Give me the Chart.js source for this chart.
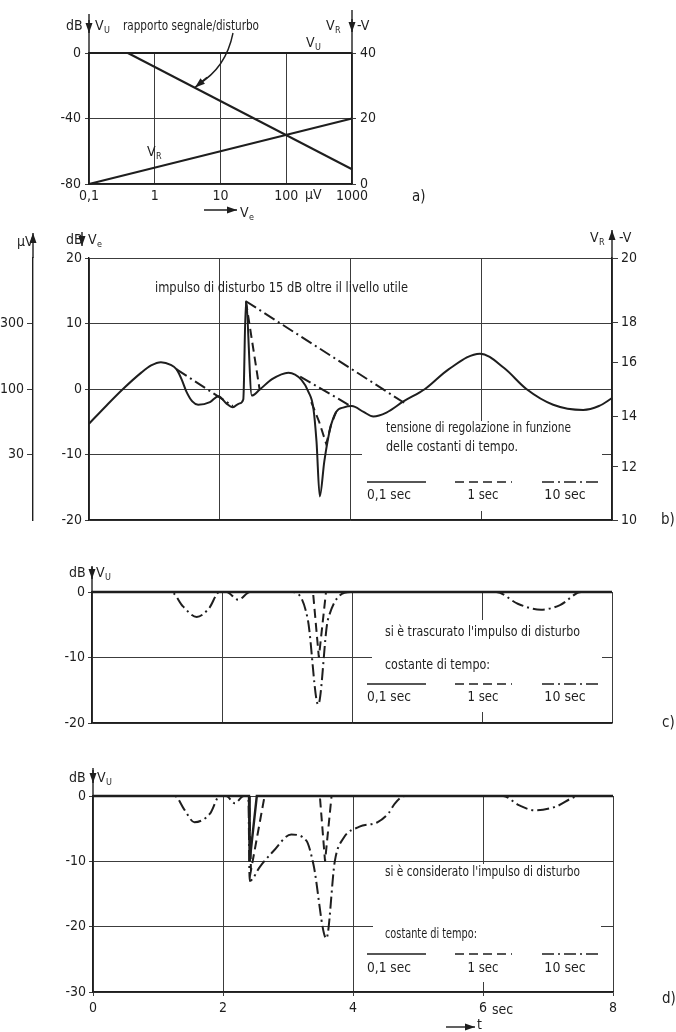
<!DOCTYPE html>
<html lang="it">
<head>
<meta charset="utf-8">
<title>Regolazione automatica del livello</title>
<script src="https://cdn.jsdelivr.net/npm/chart.js@4.4.1/dist/chart.umd.min.js"></script>
<style>
  body { margin: 0; background: #fff; }
  #hoja { position: relative; width: 676px; height: 1032px; overflow: hidden; background: #fff; }
  #hoja canvas { position: absolute; left: 0; }
</style>
</head>
<body>
<div id="hoja">
  <canvas id="graficoA" width="430" height="225" style="top:0"></canvas>
  <canvas id="graficoB" width="676" height="310" style="top:225px"></canvas>
  <canvas id="graficoC" width="676" height="200" style="top:540px"></canvas>
  <canvas id="graficoD" width="676" height="272" style="top:760px"></canvas>
</div>
<script>
const TINTA = '#1e1e1e';
const REJILLA = '#3c3c3c';
const FUENTE = "'DejaVu Sans Condensed', 'Liberation Sans Narrow', 'DejaVu Sans', sans-serif";
const TRAZOS = { solida: [], rayas: [9, 5], puntoRaya: [12, 4, 2, 4] };

// a) rapporto segnale/disturbo (asse x logaritmico in µV)
const aTicksX = [0.1, 1, 10, 100, 1000];
const aEtiquetasX = ['0,1', '1', '10', '100', '1000'];
const aVuX = [0.1, 1000];
const aVuY = [0, 0];
const aSnrX = [0.39, 1000];
const aSnrY = [0, -71];
const aVrX = [0.1, 1000];
const aVrY = [0, 20];

// b) segnale d'ingresso e tensione di regolazione
const bBaseT = [0, 0.25, 0.52, 0.8, 0.95, 1.1, 1.25, 1.34, 1.42, 1.49, 1.58, 1.67, 1.85, 1.98, 2.1, 2.2, 2.3, 2.36, 2.40, 2.49, 2.61, 2.8, 3.05, 3.25, 3.36, 3.43, 3.48, 3.53, 3.6, 3.69, 3.78, 3.9, 4.02, 4.2, 4.35, 4.55, 4.81, 5.14, 5.5, 5.98, 6.35, 6.69, 7.1, 7.56, 7.8, 8.0];
const bBaseV = [-5.3, -2.7, 0, 2.5, 3.6, 4.1, 3.7, 3.0, 1.4, -0.4, -1.9, -2.4, -2.0, -1.1, -2.2, -2.8, -2.2, -1.6, 13.4, -1.0, -0.1, 1.5, 2.5, 1.4, -0.5, -2.8, -8.0, -16.4, -11.0, -6.0, -3.5, -2.8, -2.6, -3.5, -4.2, -3.6, -1.9, 0, 3.0, 5.4, 3.2, 0, -2.4, -3.2, -2.6, -1.4];
const bRayasT = [2.40, 2.61, 3.0, 3.40, 3.52, 3.63, 3.70, 3.78];
const bRayasV = [13.4, -0.1, null, -2.0, -5.0, -8.4, -5.5, -3.5];
const bPuntoRayaT = [1.34, 2.2, 2.8, 3.23, 4.02];
const bPuntoRayaV = [3.0, -2.6, null, 1.9, -2.7];
const bImpulsoT = [2.40, 4.82];
const bImpulsoV = [13.4, -2.1];
const bTicksUvPos = [10, 0, -10];
const bTicksUv = ['300', '100', '30'];
const bTicksDerPos = [20, 10.2, 4, -4.2, -11.9, -20];
const bTicksDer = ['20', '18', '16', '14', '12', '10'];

// c) uscita, impulso di disturbo trascurato
const cSolidaT = [0, 8];
const cSolidaV = [0, 0];
const cRayasT = [0, 3.40, 3.49, 3.60, 8];
const cRayasV = [0, 0, -10, 0, 0];
const cPuntoRayaT = [0, 1.22, 1.40, 1.61, 1.80, 1.96, 2.07, 2.25, 2.43, 3.09, 3.32, 3.48, 3.63, 3.99, 6.22, 6.55, 6.91, 7.2, 7.53, 8];
const cPuntoRayaV = [0, 0, -2.2, -3.8, -2.5, 0, 0, -1.2, 0, 0, -4.2, -17.2, -4.2, 0, 0, -1.8, -2.7, -2.0, 0, 0];

// d) uscita, impulso di disturbo considerato
const dSolidaT = [0, 2.40, 2.41, 2.52, 8];
const dSolidaV = [0, 0, -10, 0, 0];
const dRayasT = [0, 2.40, 2.43, 2.64, 3.49, 3.57, 3.67, 8];
const dRayasV = [0, 0, -11.4, 0, 0, -10, 0, 0];
const dPuntoRayaT = [0, 1.26, 1.40, 1.56, 1.80, 1.95, 2.05, 2.18, 2.32, 2.39, 2.41, 2.57, 2.77, 3.05, 3.28, 3.39, 3.59, 3.72, 3.85, 4.1, 4.38, 4.55, 4.64, 4.8, 6.31, 6.55, 6.8, 7.1, 7.49, 8];
const dPuntoRayaV = [0, 0, -2.0, -4.0, -2.7, 0, 0, -1.1, 0, 0, -13, -10.8, -8.5, -5.9, -6.8, -10.4, -21.8, -10, -6.5, -4.7, -4.0, -2.6, -1.2, 0, 0, -1.4, -2.2, -1.7, 0, 0];

Chart.defaults.font.family = FUENTE;
Chart.defaults.font.size = 14;
Chart.defaults.color = TINTA;
Chart.defaults.animation = false;

function puntos(ts, vs) {
    return ts.map((t, i) => ({ x: t, y: vs[i] }));
}

function linea(etiqueta, ts, vs, estilo, extra) {
    return Object.assign({
        label: etiqueta,
        data: puntos(ts, vs),
        borderColor: TINTA,
        borderWidth: 2,
        borderDash: TRAZOS[estilo],
        pointRadius: 0,
        fill: false,
        spanGaps: false,
        clip: false,
        tension: 0
    }, extra || {});
}

function escribir(ctx, n) {
    const tam = n.s || 14;
    ctx.font = `${tam}px ${FUENTE}`;
    ctx.textBaseline = 'middle';
    ctx.textAlign = 'left';
    let ancho = ctx.measureText(n.t).width;
    if (n.w) ancho = Math.min(ancho, n.w);
    let x = n.x;
    if (n.a === 'center') x -= ancho / 2;
    if (n.w) ctx.fillText(n.t, x, n.y, n.w);
    else ctx.fillText(n.t, x, n.y);
    if (n.sub) {
        ctx.font = `${Math.round(tam * 0.65)}px ${FUENTE}`;
        ctx.fillText(n.sub, x + ancho + 0.5, n.y + tam * 0.3);
    }
}

function flecha(ctx, f) {
    ctx.beginPath();
    ctx.moveTo(f.x1, f.y1);
    ctx.lineTo(f.x2, f.y2);
    ctx.stroke();
    if (f.sinPunta) return;
    const ang = Math.atan2(f.y2 - f.y1, f.x2 - f.x1);
    const L = 10, A = 3.5;
    ctx.beginPath();
    ctx.moveTo(f.x2, f.y2);
    ctx.lineTo(f.x2 - L * Math.cos(ang) + A * Math.sin(ang), f.y2 - L * Math.sin(ang) - A * Math.cos(ang));
    ctx.lineTo(f.x2 - L * Math.cos(ang) - A * Math.sin(ang), f.y2 - L * Math.sin(ang) + A * Math.cos(ang));
    ctx.closePath();
    ctx.fill();
}

// Plugin para textos, muestras de leyenda y flechas del dibujo
function crearNotas(cfg) {
    return {
        id: 'notas',
        beforeDatasetsDraw(chart) {
            const ctx = chart.ctx;
            ctx.save();
            ctx.fillStyle = '#fff';
            (cfg.blancos || []).forEach(b => ctx.fillRect(b[0], b[1], b[2], b[3]));
            ctx.restore();
        },
        afterDraw(chart) {
            const ctx = chart.ctx;
            ctx.save();
            ctx.fillStyle = TINTA;
            ctx.strokeStyle = TINTA;
            ctx.lineWidth = 1.4;
            (cfg.textos || []).forEach(t => escribir(ctx, t));
            ctx.lineWidth = 1.6;
            (cfg.muestras || []).forEach(m => {
                ctx.setLineDash(TRAZOS[m.estilo]);
                ctx.beginPath();
                ctx.moveTo(m.x1, m.y);
                ctx.lineTo(m.x2, m.y);
                ctx.stroke();
            });
            ctx.setLineDash([]);
            ctx.lineWidth = 1.4;
            (cfg.flechas || []).forEach(f => flecha(ctx, f));
            if (cfg.extra) cfg.extra(chart, ctx);
            ctx.restore();
        }
    };
}

function leyenda(y, yTexto) {
    return {
        muestras: [
            { estilo: 'solida', x1: 367, x2: 426, y: y },
            { estilo: 'rayas', x1: 455, x2: 512, y: y },
            { estilo: 'puntoRaya', x1: 542, x2: 600, y: y }
        ],
        textos: [
            { t: '0,1 sec', x: 389, y: yTexto, a: 'center', w: 44 },
            { t: '1 sec', x: 483, y: yTexto, a: 'center', w: 31 },
            { t: '10 sec', x: 565, y: yTexto, a: 'center', w: 42 }
        ]
    };
}

const rejilla = { color: REJILLA, lineWidth: 1, drawTicks: false };
const borde = { color: TINTA, width: 1.4 };
const sinLeyenda = { legend: { display: false }, tooltip: { enabled: false } };

// ---------- a) ----------
function generarGraficoA() {
    new Chart(document.getElementById('graficoA'), {
        type: 'line',
        data: {
            datasets: [
                linea('V_U', aVuX, aVuY, 'solida', { yAxisID: 'y' }),
                linea('rapporto segnale/disturbo', aSnrX, aSnrY, 'solida', { yAxisID: 'y' }),
                linea('V_R', aVrX, aVrY, 'solida', { yAxisID: 'yR' })
            ]
        },
        options: {
            responsive: false,
            layout: { padding: { top: 53, left: 0, right: 0, bottom: 0 } },
            plugins: sinLeyenda,
            scales: {
                x: {
                    type: 'logarithmic', min: 0.1, max: 1000,
                    afterBuildTicks: s => { s.ticks = aTicksX.map(v => ({ value: v })); },
                    ticks: { callback: (v, i) => aEtiquetasX[i], padding: 4, autoSkip: false, maxRotation: 0 },
                    grid: rejilla, border: borde,
                    afterFit: s => { s.height = 41; }
                },
                y: {
                    min: -80, max: 0,
                    ticks: { stepSize: 40, padding: 4 },
                    grid: { color: REJILLA, lineWidth: 1, tickLength: 4 }, border: borde,
                    afterFit: s => { s.width = 89; }
                },
                yR: {
                    position: 'right', min: 0, max: 40,
                    ticks: { stepSize: 20, padding: 4 },
                    grid: { drawOnChartArea: false, color: REJILLA, tickLength: 4 }, border: borde,
                    afterFit: s => { s.width = 78; }
                }
            }
        },
        plugins: [crearNotas({
            textos: [
                { t: 'dB', x: 66, y: 26 },
                { t: 'V', sub: 'U', x: 95, y: 26 },
                { t: 'rapporto segnale/disturbo', x: 123, y: 26, w: 136 },
                { t: 'V', sub: 'R', x: 326, y: 26 },
                { t: '-V', x: 357, y: 26 },
                { t: 'V', sub: 'U', x: 306, y: 43 },
                { t: 'V', sub: 'R', x: 147, y: 152 },
                { t: 'µV', x: 305, y: 195 },
                { t: 'V', sub: 'e', x: 240, y: 213 },
                { t: 'a)', x: 412, y: 197, s: 15 }
            ],
            flechas: [
                { x1: 89, y1: 53, x2: 89, y2: 14, sinPunta: true },
                { x1: 89, y1: 20, x2: 89, y2: 33 },
                { x1: 352, y1: 53, x2: 352, y2: 10, sinPunta: true },
                { x1: 352, y1: 19, x2: 352, y2: 32 },
                { x1: 204, y1: 210, x2: 237, y2: 210 }
            ],
            extra: (chart, ctx) => {
                // flecha curva verso la retta del rapporto segnale/disturbo
                const xs = chart.scales.x, ys = chart.scales.y;
                const px = xs.getPixelForValue(4.1), py = ys.getPixelForValue(-21);
                ctx.beginPath();
                ctx.moveTo(233, 33);
                ctx.quadraticCurveTo(226, 68, px + 3, py - 3);
                ctx.stroke();
                flecha(ctx, { x1: px + 12, y1: py - 10, x2: px, y2: py });
            }
        })]
    });
}

// ---------- b) ----------
function generarGraficoB() {
    new Chart(document.getElementById('graficoB'), {
        type: 'line',
        data: {
            datasets: [
                linea('V_e / 0,1 sec', bBaseT, bBaseV, 'solida', { cubicInterpolationMode: 'monotone' }),
                linea('1 sec', bRayasT, bRayasV, 'rayas'),
                linea('10 sec', bPuntoRayaT, bPuntoRayaV, 'puntoRaya'),
                linea('10 sec impulso', bImpulsoT, bImpulsoV, 'puntoRaya')
            ]
        },
        options: {
            responsive: false,
            layout: { padding: { top: 33, left: 0, right: 0, bottom: 0 } },
            plugins: sinLeyenda,
            scales: {
                x: {
                    type: 'linear', min: 0, max: 8,
                    ticks: { display: false, stepSize: 2 },
                    grid: rejilla, border: borde,
                    afterFit: s => { s.height = 15; }
                },
                yUv: {
                    position: 'left', weight: 5, min: -20, max: 20,
                    afterBuildTicks: s => { s.ticks = bTicksUvPos.map(v => ({ value: v })); },
                    ticks: { callback: (v, i) => bTicksUv[i], padding: 3 },
                    grid: { drawOnChartArea: false, color: REJILLA, tickLength: 6 }, border: borde,
                    afterFit: s => { s.width = 33; }
                },
                y: {
                    position: 'left', weight: 0, min: -20, max: 20,
                    ticks: { stepSize: 10, padding: 3 },
                    grid: { color: REJILLA, lineWidth: 1, tickLength: 4 }, border: borde,
                    afterFit: s => { s.width = 56; }
                },
                yR: {
                    position: 'right', min: -20, max: 20,
                    afterBuildTicks: s => { s.ticks = bTicksDerPos.map(v => ({ value: v })); },
                    ticks: { callback: (v, i) => bTicksDer[i], padding: 3 },
                    grid: { drawOnChartArea: false, color: REJILLA, tickLength: 6 }, border: borde,
                    afterFit: s => { s.width = 64; }
                }
            }
        },
        plugins: [crearNotas({
            blancos: [[362, 196, 240, 90]],
            textos: [
                { t: 'µV', x: 17, y: 17 },
                { t: 'dB', x: 66, y: 15 },
                { t: 'V', sub: 'e', x: 88, y: 15 },
                { t: 'V', sub: 'R', x: 590, y: 13 },
                { t: '-V', x: 619, y: 13 },
                { t: 'impulso di disturbo 15 dB oltre il livello utile', x: 155, y: 63, w: 253 },
                { t: 'tensione di regolazione in funzione', x: 386, y: 203, w: 185 },
                { t: 'delle costanti di tempo.', x: 386, y: 222, w: 132 },
                { t: 'b)', x: 661, y: 295, s: 15 }
            ].concat(leyenda(257, 270).textos),
            muestras: leyenda(257, 270).muestras,
            flechas: [
                { x1: 33, y1: 33, x2: 33, y2: 8 },
                { x1: 82, y1: 7, x2: 82, y2: 21 },
                { x1: 612, y1: 33, x2: 612, y2: 5 }
            ]
        })]
    });
}

// ---------- c) ----------
function generarGraficoC() {
    new Chart(document.getElementById('graficoC'), {
        type: 'line',
        data: {
            datasets: [
                linea('0,1 sec', cSolidaT, cSolidaV, 'solida', { borderWidth: 2.4 }),
                linea('1 sec', cRayasT, cRayasV, 'rayas'),
                linea('10 sec', cPuntoRayaT, cPuntoRayaV, 'puntoRaya', { cubicInterpolationMode: 'monotone' })
            ]
        },
        options: {
            responsive: false,
            layout: { padding: { top: 52, left: 0, right: 64, bottom: 0 } },
            plugins: sinLeyenda,
            scales: {
                x: {
                    type: 'linear', min: 0, max: 8,
                    ticks: { display: false, stepSize: 2 },
                    grid: rejilla, border: borde,
                    afterFit: s => { s.height = 17; }
                },
                y: {
                    min: -20, max: 0,
                    ticks: { stepSize: 10, padding: 3 },
                    grid: { color: REJILLA, lineWidth: 1, tickLength: 4 }, border: borde,
                    afterFit: s => { s.width = 92; }
                }
            }
        },
        plugins: [crearNotas({
            blancos: [[372, 80, 230, 92]],
            textos: [
                { t: 'dB', x: 69, y: 33 },
                { t: 'V', sub: 'U', x: 96, y: 33 },
                { t: "si è trascurato l'impulso di disturbo", x: 385, y: 92, w: 195 },
                { t: 'costante di tempo:', x: 385, y: 125, w: 105 },
                { t: 'c)', x: 662, y: 183, s: 15 }
            ].concat(leyenda(144, 157).textos),
            muestras: leyenda(144, 157).muestras,
            flechas: [
                { x1: 92, y1: 52, x2: 92, y2: 26, sinPunta: true },
                { x1: 92, y1: 27, x2: 92, y2: 39 }
            ]
        })]
    });
}

// ---------- d) ----------
function generarGraficoD() {
    new Chart(document.getElementById('graficoD'), {
        type: 'line',
        data: {
            datasets: [
                linea('0,1 sec', dSolidaT, dSolidaV, 'solida', { borderWidth: 2.4 }),
                linea('1 sec', dRayasT, dRayasV, 'rayas'),
                linea('10 sec', dPuntoRayaT, dPuntoRayaV, 'puntoRaya', { cubicInterpolationMode: 'monotone' })
            ]
        },
        options: {
            responsive: false,
            layout: { padding: { top: 36, left: 0, right: 63, bottom: 0 } },
            plugins: sinLeyenda,
            scales: {
                x: {
                    type: 'linear', min: 0, max: 8,
                    ticks: { stepSize: 2, padding: 4, font: { size: 14 } },
                    grid: { color: REJILLA, lineWidth: 1, tickLength: 4 }, border: borde,
                    afterFit: s => { s.height = 40; }
                },
                y: {
                    min: -30, max: 0,
                    ticks: { stepSize: 10, padding: 3 },
                    grid: { color: REJILLA, lineWidth: 1, tickLength: 4 }, border: borde,
                    afterFit: s => { s.width = 93; }
                }
            }
        },
        plugins: [crearNotas({
            blancos: [[373, 104, 228, 118]],
            textos: [
                { t: 'dB', x: 69, y: 18 },
                { t: 'V', sub: 'U', x: 97, y: 18 },
                { t: "si è considerato l'impulso di disturbo", x: 385, y: 112, w: 195 },
                { t: 'costante di tempo:', x: 385, y: 174, w: 92 },
                { t: 'sec', x: 492, y: 250 },
                { t: 't', x: 477, y: 265 },
                { t: 'd)', x: 662, y: 239, s: 15 }
            ].concat(leyenda(194, 208).textos),
            muestras: leyenda(194, 208).muestras,
            flechas: [
                { x1: 93, y1: 36, x2: 93, y2: 8, sinPunta: true },
                { x1: 93, y1: 10, x2: 93, y2: 23 },
                { x1: 446, y1: 267, x2: 475, y2: 267 }
            ]
        })]
    });
}

generarGraficoA();
generarGraficoB();
generarGraficoC();
generarGraficoD();
</script>
</body>
</html>
